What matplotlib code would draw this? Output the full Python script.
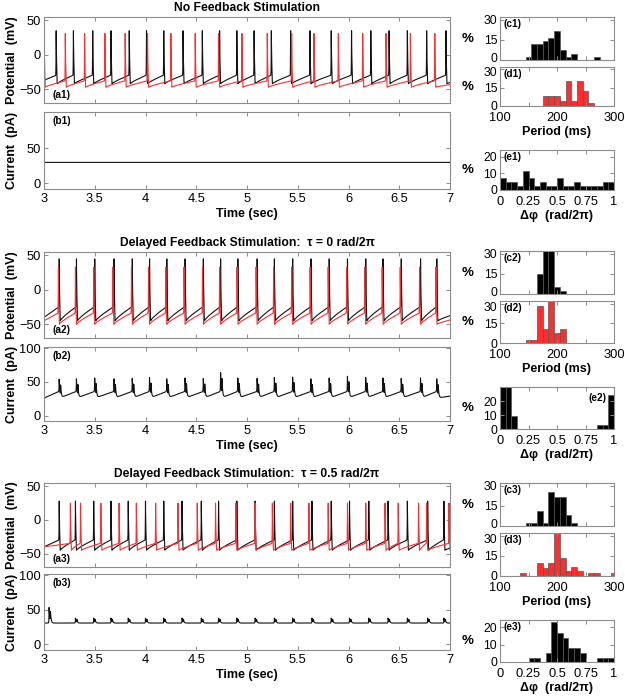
import numpy as np
import matplotlib
matplotlib.use('Agg')
import matplotlib.pyplot as plt
from matplotlib.transforms import ScaledTranslation

plt.rcParams['font.family'] = ['Liberation Sans', 'DejaVu Sans']
plt.rcParams['font.size'] = 9

# ---- spike times (sec) ----
a1_black = [3.12, 3.29, 3.48, 3.66, 3.84, 4.01, 4.18, 4.37, 4.56, 4.73, 4.90,
            5.07, 5.24, 5.43, 5.62, 5.83, 6.03, 6.22, 6.40, 6.58, 6.77, 6.96]
a1_red = [3.002, 3.21, 3.40, 3.60, 3.80, 4.02, 4.25, 4.49, 4.72, 4.95, 5.20,
          5.44, 5.66, 5.90, 6.14, 6.37, 6.61, 6.85]
a2_black = [3.15, 3.32, 3.50, 3.69, 3.87, 4.04, 4.21, 4.39, 4.57, 4.74, 4.91,
            5.10, 5.27, 5.45, 5.63, 5.81, 5.99, 6.17, 6.34, 6.52, 6.71, 6.87]
a2_red = [3.142, 3.31, 3.49, 3.678, 3.862, 4.03, 4.20, 4.38, 4.562, 4.73, 4.902,
          5.09, 5.262, 5.44, 5.622, 5.80, 5.982, 6.16, 6.332, 6.51, 6.70, 6.862]
a3_black = [3.15, 3.31, 3.49, 3.66, 3.83, 4.00, 4.18, 4.36, 4.55, 4.72, 4.90,
            5.08, 5.27, 5.45, 5.64, 5.83, 6.01, 6.20, 6.39, 6.58, 6.78, 6.94]
a3_red = [3.26, 3.36, 3.56, 3.74, 3.91, 4.10, 4.32, 4.51, 4.69, 4.89, 5.08,
          5.25, 5.43, 5.61, 5.80, 5.99, 6.17, 6.36, 6.49, 6.69, 6.77, 6.99]

# (peak, trough, pre-spike level) in mV
a1_black_lv = (35, -42, -30)
a1_red_lv = (31, -47, -38)
a2_black_lv = (45, -45, -25)
a2_red_lv = (33, -50, -34)
a3_black_lv = (28, -45, -30)
a3_red_lv = (25, -45, -35)

# ---- feedback current (pA) ----
b1_level = 30
b2_peaks = [54, 55, 57, 55, 56, 58, 55, 57, 56, 68, 57, 56, 58, 59, 55, 57,
            61, 58, 57, 56, 57, 55]
b2_base = (26, 36)
b3_times = [3.05] + a3_black[1:]
b3_peaks = [56] + [39] * (len(a3_black) - 1)
b3_base = 31

# ---- histograms ----
c1_period = [150, 160, 170, 180, 190, 200, 210, 220, 230, 270]
c1_pct = [2.4, 11.9, 11.9, 14.3, 16.7, 21.4, 7.1, 2.4, 4.8, 2.4]
d1_period = [180, 190, 200, 210, 220, 230, 240, 250, 260]
d1_pct = [8.3, 8.3, 8.3, 4.2, 20.8, 4.2, 20.8, 12.5, 2.1]
e1_phase = [0.025, 0.075, 0.125, 0.175, 0.225, 0.275, 0.325, 0.375, 0.425, 0.475,
            0.525, 0.575, 0.625, 0.675, 0.725, 0.775, 0.825, 0.875, 0.925, 0.975]
e1_pct = [7.0, 4.7, 4.7, 2.3, 11.6, 7.0, 2.3, 4.7, 2.3, 2.3,
          7.0, 2.3, 2.3, 4.7, 2.3, 2.3, 2.3, 2.3, 4.7, 4.7]

c2_period = [170, 180, 190, 200, 210]
c2_pct = [15, 37, 40, 5.5, 2.5]
d2_period = [150, 160, 170, 180, 190, 200, 210]
d2_pct = [2, 2, 28, 10.5, 38, 7.5, 10.5]
e2_phase = [0.025, 0.075, 0.125, 0.875, 0.925, 0.975]
e2_pct = [30.5, 30.5, 9, 3, 3, 24]

c3_period = [150, 160, 170, 180, 190, 200, 210, 220, 230]
c3_pct = [2.5, 2.5, 11.5, 2.5, 25, 21.5, 21.5, 8.5, 2.5]
d3_period = [140, 170, 180, 190, 200, 210, 220, 230, 240, 260, 270, 300]
d3_pct = [2.5, 9.4, 6.0, 10.0, 33.0, 13.7, 3.5, 6.6, 3.5, 2.5, 2.5, 2.5]
e3_phase = [0.275, 0.325, 0.425, 0.475, 0.525, 0.575, 0.625, 0.675, 0.725,
            0.875, 0.925, 0.975]
e3_pct = [2.4, 2.4, 4.9, 22.7, 16.7, 13.6, 8.2, 8.2, 4.9, 2.4, 2.4, 2.4]

titles = ['No Feedback Stimulation',
          'Delayed Feedback Stimulation:  \u03c4 = 0 rad/2\u03c0',
          'Delayed Feedback Stimulation:  \u03c4 = 0.5 rad/2\u03c0']

W, H = 625, 696
t = np.arange(3.0, 7.0005, 0.0005)
GRAY = '#8c8c8c'
RED = '#ff2e2e'
TICK_FS = 9.3


def box(x0, y0, x1, y1):
    return [x0 / W, 1 - y1 / H, (x1 - x0) / W, (y1 - y0) / H]


def membrane(spikes, levels):
    peak, trough, thresh = levels
    v = np.full_like(t, trough)
    rise, fall = 0.006, 0.010
    m = t < spikes[0] - rise
    if m.any():
        u = (t[m] - t[0]) / (spikes[0] - rise - t[0])
        v[m] = trough + 5 + (thresh - trough - 5) * u
    for i, s in enumerate(spikes):
        nxt = spikes[i + 1] if i + 1 < len(spikes) else 7.3
        m = (t >= s - rise) & (t < s)
        w = (t[m] - (s - rise)) / rise
        v[m] = thresh + (peak - thresh) * w ** 3
        m = (t >= s) & (t < s + fall)
        w = (t[m] - s) / fall
        v[m] = peak + (trough - peak) * w ** 0.6
        m = (t >= s + fall) & (t < nxt - rise)
        u = (t[m] - s - fall) / (nxt - rise - s - fall)
        v[m] = trough + (thresh - trough) * u ** 0.8
    return v


def current(times, peaks, lo, hi):
    c = np.full_like(t, lo)
    m = t < times[0]
    c[m] = lo + (hi - lo) * (t[m] - 3) / (times[0] - 3)
    for k, s in enumerate(times):
        nxt = times[k + 1] if k + 1 < len(times) else 7.3
        m = (t >= s) & (t < nxt)
        c[m] = lo + (hi - lo) * (t[m] - s) / (nxt - s)
    for s, p in zip(times, peaks):
        d = t - s
        pulse = np.where(d >= 0, np.exp(-d / 0.007), np.exp(d / 0.0015))
        d2 = d - 0.014
        pulse2 = np.where(d2 >= 0, np.exp(-d2 / 0.006), np.exp(d2 / 0.0015))
        c += (p - lo) * (0.9 * pulse + 0.55 * pulse2)
    return c


def style(ax, xpad=2, ysize=TICK_FS):
    for sp in ax.spines.values():
        sp.set_color(GRAY)
        sp.set_linewidth(0.8)
    ax.tick_params(direction='in', length=3, width=0.7, color=GRAY,
                   top=True, right=True, labelsize=TICK_FS, pad=2)
    ax.tick_params(axis='x', pad=xpad)
    ax.tick_params(axis='y', labelsize=ysize)


def nudge(ax, idx, dy_px):
    lab = ax.yaxis.get_major_ticks()[idx].label1
    lab.set_transform(lab.get_transform() +
                      ScaledTranslation(0, dy_px / 100, fig.dpi_scale_trans))


def tag(ax, s, x=0.03, y=0.96, ha='left', va='top'):
    ax.text(x, y, s, transform=ax.transAxes, ha=ha, va=va,
            fontsize=7.3, fontweight='bold')


fig = plt.figure(figsize=(W / 100, H / 100), dpi=100)

groups = [
    (17, 103, 112, 189, a1_black, a1_black_lv, a1_red, a1_red_lv),
    (252, 338, 347, 421, a2_black, a2_black_lv, a2_red, a2_red_lv),
    (483, 567, 574, 650, a3_black, a3_black_lv, a3_red, a3_red_lv),
]
currents = [np.full_like(t, b1_level),
            current(a2_black, b2_peaks, *b2_base),
            current(b3_times, b3_peaks, b3_base, b3_base)]

for g, (ya0, ya1, yb0, yb1, bk, bk_lv, rd, rd_lv) in enumerate(groups):
    ax = fig.add_axes(box(44, ya0, 450, ya1))
    ax.plot(t, membrane(bk, bk_lv), color='#111111', lw=0.8)
    ax.plot(t, membrane(rd, rd_lv), color=RED, lw=0.8)
    ax.set_xlim(3, 7)
    ax.set_ylim(-70, 55)
    ax.set_yticks([-50, 0, 50])
    ax.set_xticks(np.arange(3, 7.01, 0.5))
    ax.set_xticklabels([])
    style(ax)
    tag(ax, '(a%d)' % (g + 1), x=0.02, y=0.04, va='bottom')
    fig.text(247 / W, 1 - (ya0 - 9) / H, titles[g], ha='center', va='center',
             fontsize=8.7, fontweight='bold')
    fig.text(12 / W, 1 - (ya0 + ya1) / 2 / H, 'Potential  (mV)', rotation=90,
             ha='center', va='center', fontsize=9, fontweight='bold')

    bx = fig.add_axes(box(44, yb0, 450, yb1))
    bx.plot(t, currents[g], color='#111111', lw=0.8)
    bx.set_xlim(3, 7)
    bx.set_ylim(-8, 102)
    bx.set_yticks([0, 50] if g == 0 else [0, 50, 100])
    bx.set_xticks(np.arange(3, 7.01, 0.5))
    bx.set_xticklabels(['3', '3.5', '4', '4.5', '5', '5.5', '6', '6.5', '7'])
    bx.set_xlabel('Time (sec)', fontsize=9, fontweight='bold', labelpad=2)
    style(bx, xpad=3)
    tag(bx, '(b%d)' % (g + 1), x=0.02, y=0.95)
    fig.text(12 / W, 1 - (yb0 + yb1) / 2 / H, 'Current  (pA)', rotation=90,
             ha='center', va='center', fontsize=9, fontweight='bold')

hist_rows = [
    ((17, 60), (67, 106), (150, 190), 24, 'left'),
    ((251, 294), (301, 343), (387, 429), 30, 'right'),
    ((483, 526), (533, 576), (620, 662), 24, 'left'),
]
c_data = [(c1_period, c1_pct), (c2_period, c2_pct), (c3_period, c3_pct)]
d_data = [(d1_period, d1_pct), (d2_period, d2_pct), (d3_period, d3_pct)]
e_data = [(e1_phase, e1_pct), (e2_phase, e2_pct), (e3_phase, e3_pct)]

for g, (cy, dy, ey, etop, eside) in enumerate(hist_rows):
    for name, (y0, y1), (xs, ys), color in [('c', cy, c_data[g], 'black'),
                                            ('d', dy, d_data[g], RED)]:
        ax = fig.add_axes(box(500, y0, 614, y1))
        ax.bar(xs, ys, width=10, color=color, edgecolor='#555555', linewidth=0.5)
        ax.set_xlim(100, 300)
        ax.set_ylim(0, 32)
        ax.set_yticks([0, 15, 30])
        ax.set_xticks([100, 150, 200, 250, 300])
        if name == 'c':
            ax.set_xticklabels([])
        else:
            ax.set_xticklabels(['100', '', '200', '', '300'])
            ax.set_xlabel('Period (ms)', fontsize=9, fontweight='bold', labelpad=1)
        style(ax, xpad=4.5, ysize=8.8)
        # keep the stacked "0" / "30" labels between c and d apart
        if name == 'c':
            nudge(ax, 0, 2.5)
        else:
            nudge(ax, 2, -2.5)
        tag(ax, '(%s%d)' % (name, g + 1), x=0.03, y=0.95)
        fig.text(468 / W, 1 - (y0 + y1) / 2 / H, '%', ha='center', va='center',
                 fontsize=9.5, fontweight='bold')

    y0, y1 = ey
    ax = fig.add_axes(box(500, y0, 614, y1))
    xs, ys = e_data[g]
    ax.bar(xs, ys, width=0.05, color='black', edgecolor='#555555', linewidth=0.5)
    ax.set_xlim(0, 1)
    ax.set_ylim(0, etop)
    ax.set_yticks([0, 10, 20])
    ax.set_xticks([0, 0.25, 0.5, 0.75, 1])
    ax.set_xticklabels(['0', '0.25', '0.5', '0.75', '1'])
    ax.set_xlabel('\u0394\u03c6  (rad/2\u03c0)', fontsize=9, fontweight='bold',
                  labelpad=1)
    style(ax, xpad=4.5, ysize=8.8)
    if eside == 'left':
        tag(ax, '(e%d)' % (g + 1), x=0.03, y=0.95)
    else:
        tag(ax, '(e%d)' % (g + 1), x=0.93, y=0.85, ha='right')
    fig.text(468 / W, 1 - (y0 + y1) / 2 / H, '%', ha='center', va='center',
             fontsize=9.5, fontweight='bold')

fig.savefig('out.png', dpi=100)
